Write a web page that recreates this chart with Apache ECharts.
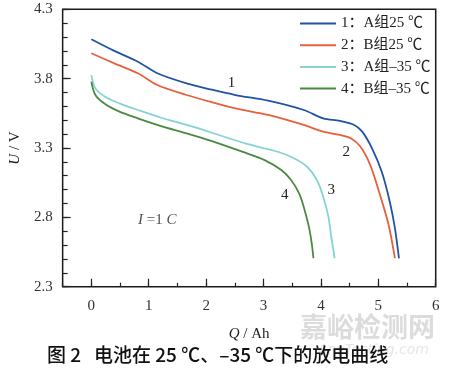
<!DOCTYPE html>
<html>
<head>
<meta charset="utf-8">
<script src="https://cdn.jsdelivr.net/npm/echarts@6/dist/echarts.min.js"></script>
<style>
html,body{margin:0;padding:0;background:#fff;}
#main{width:450px;height:376px;}
</style>
</head>
<body>
<div id="main"></div>
<script>
// 放电曲线数据 (Q / Ah , U / V)
var qA25 = [0, 0.4, 0.81, 1.15, 1.66, 2.1, 2.51, 3.08, 3.7, 4.04, 4.33, 4.58, 4.72, 4.89, 5.06, 5.2, 5.29, 5.36];
var vA25 = [4.084, 4.0, 3.922, 3.839, 3.766, 3.72, 3.682, 3.641, 3.574, 3.514, 3.495, 3.466, 3.418, 3.298, 3.129, 2.913, 2.721, 2.505];

var qB25 = [0, 0.4, 0.81, 1.15, 1.66, 2.1, 2.51, 3.08, 3.7, 4.04, 4.33, 4.52, 4.69, 4.86, 5.03, 5.18, 5.29];
var vB25 = [3.983, 3.91, 3.839, 3.754, 3.682, 3.63, 3.586, 3.538, 3.466, 3.418, 3.394, 3.37, 3.309, 3.177, 2.961, 2.745, 2.505];

var qA35 = [0, 0.07, 0.24, 0.5, 0.81, 1.2, 1.66, 2.1, 2.68, 3.25, 3.53, 3.76, 3.93, 4.04, 4.13, 4.18, 4.24];
var vA35 = [3.826, 3.73, 3.67, 3.62, 3.574, 3.52, 3.466, 3.41, 3.333, 3.273, 3.226, 3.165, 3.069, 2.949, 2.805, 2.661, 2.505];

var qB35 = [0, 0.07, 0.24, 0.5, 0.81, 1.2, 1.66, 2.1, 2.68, 3.02, 3.31, 3.48, 3.62, 3.7, 3.79, 3.84, 3.87];
var vB35 = [3.778, 3.682, 3.617, 3.56, 3.514, 3.46, 3.406, 3.35, 3.266, 3.213, 3.141, 3.069, 2.973, 2.877, 2.733, 2.613, 2.505];

var seriesNames = ['1：A组25 ℃', '2：B组25 ℃', '3：A组–35 ℃', '4：B组–35 ℃'];
var xTickLabels = ['', '0', '', '1', '', '2', '', '3', '', '4', '', '5', '', '6'];
var yTickLabels = ['2.3', '', '', '', '', '2.8', '', '', '', '', '3.3', '', '', '', '', '3.8', '', '', '', '', '4.3'];

var serif = 'Liberation Serif, Noto Sans CJK SC, serif';
var ink = '#222';

function pairs(q, v) {
	return q.map(function (x, i) { return [x, v[i]]; });
}

function curve(name, q, v, color, tag) {
	return {
		name: name,
		type: 'line',
		xAxisIndex: 0,
		yAxisIndex: 0,
		data: pairs(q, v),
		symbol: 'none',
		smooth: 0.3,
		lineStyle: { width: 1.8, color: color },
		itemStyle: { color: color },
		markPoint: {
			symbol: 'circle',
			symbolSize: 0,
			label: { show: true, position: 'inside', color: ink, fontFamily: serif, fontSize: 15, formatter: tag.text },
			data: [{ coord: tag.at }]
		}
	};
}

var myChart = echarts.init(document.getElementById('main'));

var option = {
	backgroundColor: '#fff',
	animation: false,
	grid: {
		left: 53, right: 14.3, top: 9.3, bottom: 89.3,
		show: true, borderColor: '#1a1a1a', borderWidth: 1.5
	},
	legend: {
		data: seriesNames,
		orient: 'vertical',
		left: 295, top: 11,
		icon: 'rect',
		itemWidth: 36, itemHeight: 2, itemGap: 6.7,
		textStyle: { fontFamily: serif, fontSize: 15, lineHeight: 15, color: ink }
	},
	xAxis: [
		{ type: 'value', min: -0.5, max: 6, show: false },
		{
			type: 'category', data: xTickLabels, boundaryGap: false, position: 'bottom',
			axisLine: { show: false },
			axisTick: { inside: true, length: 8, interval: function (i, v) { return v !== ''; }, lineStyle: { color: ink, width: 1.2 } },
			axisLabel: { interval: 0, margin: 12, fontFamily: serif, fontSize: 15, color: '#333' },
			name: '{i|Q} / Ah', nameLocation: 'middle', nameGap: 40,
			nameTextStyle: { fontFamily: serif, fontSize: 15, color: ink, rich: { i: { fontStyle: 'italic', fontFamily: serif, fontSize: 15, color: ink } } }
		},
		{
			type: 'category', data: xTickLabels, boundaryGap: false, position: 'bottom',
			axisLine: { show: false },
			axisTick: { inside: true, length: 4, interval: 0, lineStyle: { color: ink, width: 1.2 } },
			axisLabel: { show: false }
		}
	],
	yAxis: [
		{ type: 'value', min: 2.3, max: 4.3, show: false },
		{
			type: 'category', data: yTickLabels, boundaryGap: false, position: 'left',
			axisLine: { show: false },
			axisTick: { inside: true, length: 8, interval: function (i, v) { return v !== ''; }, lineStyle: { color: ink, width: 1.2 } },
			axisLabel: { interval: 0, margin: 10, fontFamily: serif, fontSize: 15, color: '#333' },
			name: '{i|U} / V', nameLocation: 'middle', nameGap: 38, nameRotate: 90,
			nameTextStyle: { fontFamily: serif, fontSize: 15, color: ink, rich: { i: { fontStyle: 'italic', fontFamily: serif, fontSize: 15, color: ink } } }
		},
		{
			type: 'category', data: yTickLabels, boundaryGap: false, position: 'left',
			axisLine: { show: false },
			axisTick: { inside: true, length: 5, interval: 0, lineStyle: { color: ink, width: 1.2 } },
			axisLabel: { show: false }
		}
	],
	series: [
		curve(seriesNames[0], qA25, vA25, '#2253a3', { text: '1', at: [2.44, 3.77] }),
		curve(seriesNames[1], qB25, vB25, '#e6603e', { text: '2', at: [4.44, 3.273] }),
		curve(seriesNames[2], qA35, vA35, '#86d3d3', { text: '3', at: [4.18, 2.997] }),
		curve(seriesNames[3], qB35, vB35, '#4a8a40', { text: '4', at: [3.37, 2.961] }),
		{
			// I = 1 C 标注
			type: 'scatter', xAxisIndex: 0, yAxisIndex: 0, symbolSize: 0, silent: true,
			data: [[1.15, 2.78]],
			label: {
				show: true, position: 'inside',
				formatter: '{i|I} =1 {i|C}',
				fontFamily: serif, fontSize: 15, color: ink,
				rich: { i: { fontStyle: 'italic', fontFamily: serif, fontSize: 15, color: ink } }
			}
		}
	],
	graphic: [
		{
			type: 'text', left: 300, top: 313, z: 1,
			style: { text: '嘉峪检测网', fontFamily: 'Noto Sans CJK SC', fontWeight: 'bold', fontSize: 27, fill: '#dcdcdc' }
		},
		{
			type: 'text', left: 318, top: 343, z: 1,
			style: { text: 'AnyTesting.com', fontFamily: 'DejaVu Sans', fontStyle: 'italic', fontSize: 14, fill: '#e6e6e6' }
		},
		{
			type: 'text', left: 47, top: 345, z: 10,
			style: { text: '图 2   电池在 25 ℃、–35 ℃下的放电曲线', fontFamily: 'Noto Sans CJK SC', fontWeight: 500, fontSize: 19, fill: '#111' }
		}
	]
};
myChart.setOption(option);
</script>
</body>
</html>
